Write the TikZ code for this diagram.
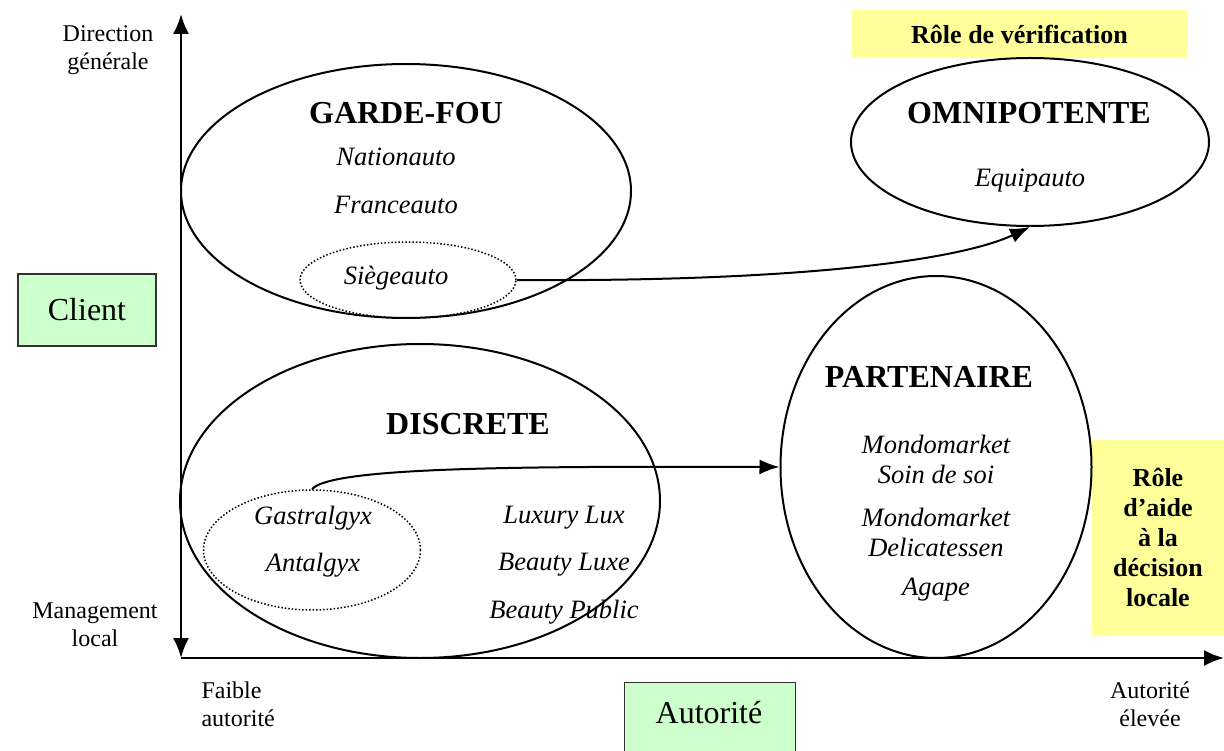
\documentclass[tikz,border=0pt]{standalone}
\usepackage{fontspec}
\setmainfont{Liberation Serif}
\usetikzlibrary{shapes.geometric,arrows.meta}
\definecolor{notejaune}{HTML}{FFFF99}
\definecolor{boitevert}{HTML}{CCFFCC}

\begin{document}
\begin{tikzpicture}[x=1pt, y=-1pt, zone/.style={ellipse, draw, line width=2pt, inner sep=0pt}, sousgroupe/.style={ellipse, draw, dotted, line width=1.5pt, inner sep=0pt}, titre/.style={font=\fontsize{32}{36}\selectfont\bfseries}, filiale/.style={font=\fontsize{26.5}{30}\selectfont\itshape, align=center}, repere/.style={font=\fontsize{24}{28}\selectfont, align=center}, boite/.style={draw=black!80, line width=1.4pt, fill=boitevert, inner sep=0pt, font=\fontsize{32}{36}\selectfont}, role/.style={fill=notejaune, inner sep=0pt, font=\fontsize{26}{30}\selectfont\bfseries, align=center}]

		\useasboundingbox (0,0) rectangle (1224,751);

		% axes
		\coordinate (haut) at (181,14);
		\coordinate (origine) at (181,658);
		\coordinate (droite) at (1224,658);
		\draw[line width=2.4pt, {Latex[length=20pt,width=16pt]}-{Latex[length=20pt,width=16pt]}] (haut) -- (origine);
		\draw[line width=2.4pt, -{Latex[length=20pt,width=16pt]}] (origine) -- (droite);

		\node[repere] (dg) at (108,50) {Direction\\générale};
		\node[repere] (ml) at (95,625) {Management\\local};
		\node[repere, align=left, anchor=west] (fa) at (198,704) {Faible\\autorité};
		\node[repere] (ae) at (1150,704) {Autorité\\élevée};

		\node[boite, minimum width=138pt, minimum height=72pt] (client) at (87,310) {Client};
		\node[boite, anchor=north west, minimum width=171pt, minimum height=100pt] (autobox) at (624,682) {};
		\node[font=\fontsize{32}{36}\selectfont] (autorite) at (709,713) {Autorité};

		\node[role, minimum width=335pt, minimum height=48pt] (verif) at (1019.5,34) {Rôle de vérification};
		\node[role, minimum width=132pt, minimum height=195pt] (aide) at (1158,537) {Rôle\\d’aide\\à la\\décision\\locale};

		% zones
		\node[zone, minimum width=450pt, minimum height=254pt] (gardefou) at (406,191) {};
		\node[zone, minimum width=358pt, minimum height=168pt] (omni) at (1030,142) {};
		\node[zone, minimum width=480pt, minimum height=314pt] (discrete) at (420,501) {};
		\node[zone, minimum width=311pt, minimum height=382pt] (partenaire) at (936,467) {};

		\node[sousgroupe, minimum width=216pt, minimum height=76pt] (siege) at (408,280) {};
		\node[sousgroupe, minimum width=217pt, minimum height=120pt] (gastr) at (312,550) {};

		% textes
		\node[titre] (t1) at (406,113) {GARDE-FOU};
		\node[filiale] (f1) at (396,157) {Nationauto};
		\node[filiale] (f2) at (396,205) {Franceauto};
		\node[filiale] (f3) at (396,278) {Siègeauto};

		\node[titre] (t2) at (1029,113) {OMNIPOTENTE};
		\node[filiale] (f4) at (1030,181) {Equipauto};

		\node[titre] (t3) at (468,424) {DISCRETE};
		\node[filiale] (f5) at (313,518) {Gastralgyx};
		\node[filiale] (f6) at (313,565) {Antalgyx};
		\node[filiale] (f7) at (564,518) {Luxury Lux};
		\node[filiale] (f8) at (564,565) {Beauty Luxe};
		\node[filiale] (f9) at (564,612) {Beauty Public};

		\node[titre] (t4) at (929,377) {PARTENAIRE};
		\node[filiale] (f10) at (936,459) {Mondomarket\\Soin de soi};
		\node[filiale] (f11) at (936,532) {Mondomarket\\Delicatessen};
		\node[filiale] (f12) at (936,590) {Agape};

		% evolutions
		\draw[line width=2pt, -{Latex[length=20pt,width=15pt]}] (siege.east) .. controls (800,282) and (960,260) .. (omni.south);
		\draw[line width=2pt, -{Latex[length=20pt,width=15pt]}] (gastr.north) .. controls (330,468) and (500,466) .. (partenaire.west);
	\end{tikzpicture}
\end{document}
